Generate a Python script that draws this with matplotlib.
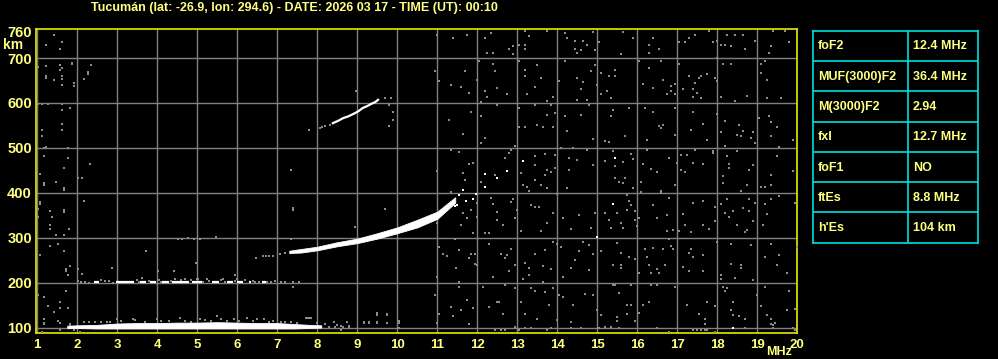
import matplotlib
matplotlib.use('Agg')
import matplotlib.pyplot as plt
import numpy as np

plt.rcParams['font.family'] = ['Liberation Sans', 'DejaVu Sans']

title = 'Tucumán (lat: -26.9, lon: 294.6) - DATE: 2026 03 17 - TIME (UT): 00:10'

freq_ticks = list(range(1, 21))
height_ticks = [100, 200, 300, 400, 500, 600, 700]

# tabla de parametros
param_names = ['foF2', 'MUF(3000)F2', 'M(3000)F2', 'fxI', 'foF1', 'ftEs', "h'Es"]
param_values = ['12.4 MHz', '36.4 MHz', '2.94', '12.7 MHz', 'NO', '8.8 MHz', '104 km']

# traza Es (banda blanca)
es_freq = [1.75, 2.0, 2.5, 3.0, 3.5, 4.0, 4.5, 5.0, 5.5, 6.0, 6.5, 7.0, 7.4, 7.8, 8.1]
es_low = [99, 99, 98, 98, 98, 98, 98, 98, 98, 98, 98, 98, 98, 99, 100]
es_high = [104, 105, 106, 109, 110, 110, 111, 111, 112, 111, 110, 110, 108, 106, 105]
es_gray = [(2.16, 113), (2.3, 112), (2.45, 113), (2.6, 113), (2.75, 112), (2.83, 113), (3.0, 118),
           (3.1, 114), (3.4, 120), (3.45, 116), (3.7, 113), (3.99, 120), (4.1, 114), (4.3, 115),
           (4.57, 122), (4.7, 115), (4.85, 113), (5.08, 120), (5.2, 116), (5.35, 114), (5.49, 125),
           (5.6, 118), (5.75, 114), (5.91, 120), (6.05, 115), (6.24, 122), (6.4, 115), (6.5, 120),
           (6.66, 118), (6.8, 113), (6.9, 114), (7.1, 113), (7.2, 113), (7.35, 112), (7.5, 111),
           (7.74, 122), (7.8, 122), (8.0, 110), (8.2, 108), (8.41, 113), (8.5, 106), (8.6, 104),
           (8.74, 112), (8.8, 104), (8.3, 102), (8.45, 101), (8.65, 101), (8.8, 100),
           (9.16, 113), (9.16, 110), (9.29, 113), (9.29, 110), (9.49, 113),
           (9.49, 110), (9.49, 128), (9.74, 128)]

# segundo salto Es (~200 km)
es2_start = [2.43, 2.97, 3.58, 3.83, 4.13, 4.38, 4.88, 5.38, 5.75, 6.0, 6.3, 6.62]
es2_end = [2.55, 3.43, 3.72, 3.97, 4.3, 4.8, 5.13, 5.55, 5.9, 6.14, 6.34, 6.72]
es2_height = 201
es2_gray = [(2.03, 204), (2.1, 201), (2.2, 201), (2.3, 199), (2.6, 205), (2.7, 204), (2.8, 203),
            (2.9, 200), (3.5, 205), (3.55, 201), (3.8, 203), (4.05, 206), (4.1, 201), (4.35, 203),
            (4.45, 207), (4.6, 205), (4.7, 208), (4.85, 205), (5.0, 207), (5.15, 201), (5.25, 207),
            (5.3, 203), (5.6, 205), (5.65, 209), (5.7, 201), (5.95, 203), (6.0, 208), (6.2, 205),
            (6.4, 204), (6.45, 201), (6.55, 202), (6.75, 202), (6.85, 201), (6.95, 203), (7.1, 202),
            (7.2, 201), (7.39, 202), (7.55, 202)]

# traza F
f_freq = [7.3, 7.6, 8.0, 8.5, 9.0, 9.5, 10.0, 10.5, 11.0, 11.25, 11.45]
f_low = [266, 267, 272, 281, 288, 298, 310, 323, 342, 362, 378]
f_high = [271, 275, 280, 290, 298, 310, 323, 340, 358, 376, 390]
f_gray = [(6.46, 255), (6.64, 259), (6.72, 259), (6.8, 259), (6.89, 259), (7.06, 263), (7.2, 266)]
f_tip = [(11.54, 395), (11.64, 406), (11.71, 382), (11.89, 386), (11.96, 398), (12.2, 442),
         (12.2, 413), (12.5, 433), (12.75, 449), (13.14, 471), (11.45, 370), (11.5, 373)]

# segundo salto F
f2_freq = [8.39, 8.54, 8.64, 8.77, 8.89, 9.02, 9.14, 9.25, 9.35, 9.45, 9.52]
f2_height = [555, 561, 566, 570, 575, 581, 589, 593, 598, 602, 607]
f2_gray = [(8.06, 544), (8.12, 546), (8.2, 548), (8.31, 551), (7.79, 540), (8.98, 626),
           (9.84, 612), (9.7, 612), (9.79, 595), (9.89, 581), (9.89, 563), (9.79, 549)]

# ruido
noise_low = [(1.43, 752), (1.23, 730), (1.63, 735), (1.58, 721), (1.23, 682), (1.03, 679), (1.58, 684),
             (1.88, 690), (1.88, 686), (1.58, 674), (1.63, 677), (1.23, 660), (1.23, 656), (1.43, 652),
             (1.63, 660), (1.63, 654), (1.63, 641), (1.93, 645), (1.93, 637), (2.34, 684), (2.28, 668),
             (2.28, 664), (2.18, 654), (1.03, 598), (1.13, 598), (1.28, 598), (1.63, 598), (1.63, 585),
             (1.83, 589), (1.63, 553), (1.63, 540), (1.13, 540), (1.13, 527), (1.23, 503), (1.18, 500),
             (1.78, 500), (1.18, 482), (1.78, 477), (2.33, 464), (1.68, 455), (1.08, 442), (2.03, 433),
             (2.13, 433), (1.18, 421), (1.18, 417), (1.48, 423), (1.68, 410), (1.68, 406), (1.08, 380),
             (1.08, 376), (2.18, 382), (1.03, 363), (1.68, 362), (1.68, 358), (1.33, 360), (1.38, 346),
             (1.03, 346), (1.33, 328), (1.33, 319), (1.8, 319), (1.48, 306), (1.68, 306), (4.53, 297),
             (4.63, 297), (4.78, 299), (4.93, 297), (5.08, 297), (5.48, 301), (1.53, 287), (1.33, 282),
             (1.68, 270), (3.73, 270), (1.08, 261), (4.98, 243), (1.83, 238), (2.88, 233), (1.73, 230),
             (1.73, 226), (2.03, 230), (4.03, 226), (4.43, 226), (2.13, 220), (1.78, 217), (3.63, 211),
             (5.03, 209), (1.73, 181), (1.03, 172), (1.18, 168), (1.58, 156), (1.28, 148), (1.78, 144),
             (1.58, 144), (1.43, 135), (1.18, 120), (1.53, 115), (1.18, 111), (1.18, 107), (1.58, 110),
             (1.83, 109), (1.83, 105), (1.58, 94), (1.13, 90), (1.93, 94), (2.08, 90),
             (7.34, 451), (7.39, 366), (7.39, 362), (9.69, 364), (8.94, 324), (7.34, 297), (9.49, 133),
             (9.74, 130), (9.74, 111), (10.04, 114), (10.04, 110), (7.39, 191), (5.94, 217), (7.73, 122),
             (7.85, 122), (8.6, 94), (10.04, 98)]

noise_mid = [(10.99, 752), (11.39, 744), (11.74, 752), (12.19, 744), (12.24, 712), (12.34, 755), (12.39, 712),
             (12.79, 721), (12.89, 726), (12.89, 708), (13.04, 730), (13.19, 761), (13.19, 730), (13.19, 721),
             (13.29, 748), (13.74, 761), (14.19, 755), (14.24, 744), (14.44, 739), (14.44, 721), (14.49, 712),
             (14.59, 717), (14.64, 739), (14.74, 730), (14.89, 757), (14.94, 717), (15.04, 735),
             (10.94, 672), (11.04, 648), (11.34, 639), (11.59, 635), (11.69, 671), (11.79, 622), (11.99, 652),
             (12.04, 694), (12.19, 626), (12.24, 614), (12.39, 686), (12.44, 671), (12.49, 633), (12.74, 620),
             (12.09, 602), (13.04, 693), (13.19, 674), (13.19, 660), (13.24, 619), (13.44, 635), (13.49, 684),
             (13.59, 656), (13.74, 604), (13.89, 613), (14.04, 648), (14.19, 693), (14.49, 656), (14.59, 630),
             (14.64, 647), (14.74, 607), (14.84, 671), (14.94, 684), (14.99, 641), (15.09, 667), (15.09, 619),
             (14.49, 607),
             (11.29, 563), (11.64, 531), (11.84, 581), (12.09, 572), (12.09, 511), (12.19, 522), (12.49, 595),
             (13.04, 589), (13.04, 546), (13.19, 546), (13.44, 595), (13.49, 552), (13.64, 547), (13.74, 574),
             (13.84, 595), (13.89, 546), (13.94, 577), (14.19, 572), (14.24, 537), (14.59, 574), (14.79, 595),
             (14.89, 520), (15.19, 516),
             (10.99, 449), (11.34, 495), (11.54, 491), (11.64, 443), (11.79, 464), (11.89, 466), (11.69, 429),
             (12.09, 423), (12.44, 440), (12.69, 477), (12.79, 488), (12.84, 495), (12.94, 504), (13.09, 444),
             (13.14, 418), (13.24, 412), (13.29, 403), (13.44, 482), (13.44, 462), (13.44, 429), (13.59, 418),
             (13.69, 487), (13.69, 440), (13.74, 451), (13.84, 446), (13.94, 485), (13.94, 455), (13.74, 410),
             (14.24, 410), (14.29, 477), (14.29, 451), (14.39, 500), (14.49, 473), (14.74, 495), (14.89, 462),
             (15.19, 470), (14.09, 500),
             (11.34, 401), (11.54, 395), (11.64, 354), (11.84, 362), (11.99, 378), (11.99, 347), (12.34, 389),
             (12.39, 375), (12.49, 358), (12.49, 340), (12.64, 328), (12.84, 380), (12.89, 386), (12.94, 345),
             (12.99, 362), (13.09, 315), (13.34, 373), (13.44, 369), (13.54, 369), (13.59, 315), (13.74, 332),
             (13.89, 354), (13.99, 397), (14.14, 343), (14.54, 351), (14.34, 319), (14.84, 322), (14.94, 354),
             (15.19, 356), (12.29, 311), (12.19, 311), (11.89, 311), (11.59, 328), (11.74, 343), (10.99, 332),
             (11.04, 280), (11.14, 264), (11.24, 260), (11.44, 297), (11.54, 273), (11.79, 254), (11.84, 264),
             (11.94, 264), (11.94, 242), (11.99, 239), (12.29, 285), (12.39, 213), (12.59, 264), (12.69, 254),
             (12.74, 261), (12.79, 226), (12.84, 276), (12.94, 239), (13.14, 208), (13.19, 243), (13.29, 233),
             (13.29, 217), (13.44, 263), (13.69, 273), (13.64, 237), (13.84, 230), (13.89, 291), (13.99, 287),
             (14.14, 213), (14.09, 280), (14.34, 233), (14.44, 250), (14.54, 270), (14.64, 291), (14.79, 284),
             (14.79, 229), (14.89, 263), (15.09, 270), (11.46, 232), (11.54, 202), (10.99, 213),
             (10.94, 172), (11.04, 130), (11.34, 146), (11.39, 126), (11.54, 191), (11.59, 139), (11.74, 161),
             (11.89, 144), (12.14, 191), (12.29, 146), (12.49, 157), (12.54, 156), (12.69, 194), (12.64, 131),
             (12.94, 189), (13.09, 157), (13.19, 131), (13.34, 189), (13.44, 181), (13.49, 119), (13.64, 202),
             (13.69, 180), (13.79, 150), (13.89, 189), (13.99, 116), (14.04, 172), (14.14, 168), (14.34, 113),
             (14.39, 151), (14.69, 174), (14.89, 172), (14.99, 139), (15.09, 129), (15.19, 101), (11.79, 107),
             (10.99, 111), (12.44, 94), (12.59, 94), (12.69, 94), (13.04, 94), (13.19, 100), (13.34, 100),
             (13.74, 94), (13.84, 100), (14.34, 100), (14.59, 100), (15.04, 98), (12.94, 101)]

noise_high = [(15.64, 757), (15.59, 708), (15.89, 744), (16.29, 730), (16.29, 712), (16.39, 744), (16.54, 721),
              (17.04, 735), (17.19, 735), (17.29, 744), (17.44, 752), (17.79, 761), (17.89, 735), (17.99, 739),
              (18.09, 730), (18.19, 730), (18.24, 752), (18.34, 726), (18.44, 752), (18.64, 752), (18.69, 721),
              (18.94, 739), (19.29, 712), (19.34, 726), (19.39, 761), (19.69, 761), (19.79, 735),
              (15.44, 674), (15.44, 660), (15.29, 660), (15.24, 626), (15.34, 611), (16.04, 693), (16.14, 642),
              (16.29, 678), (16.39, 633), (16.59, 693), (16.64, 652), (16.74, 619), (16.84, 637), (16.84, 627),
              (16.94, 642), (16.94, 620), (17.04, 686), (17.14, 631), (17.29, 661), (17.39, 631), (17.39, 613),
              (17.44, 645), (17.49, 622), (17.54, 656), (17.59, 610), (17.59, 659), (17.74, 665), (17.94, 656),
              (17.99, 648), (18.09, 613), (18.14, 687), (18.34, 687), (18.44, 605), (18.74, 615), (19.09, 686),
              (19.09, 667), (19.19, 693), (19.24, 652), (19.24, 610), (19.59, 611), (17.99, 699),
              (15.34, 570), (15.39, 585), (15.29, 514), (15.69, 527), (15.79, 589), (16.19, 589), (16.24, 518),
              (16.39, 580), (16.54, 548), (16.64, 552), (16.59, 544), (16.94, 589), (16.94, 529), (17.34, 540),
              (17.39, 580), (17.64, 553), (17.74, 518), (17.99, 575), (18.09, 535), (18.19, 559), (18.19, 505),
              (18.49, 529), (18.54, 552), (18.59, 526), (18.64, 537), (18.84, 522), (18.89, 535), (18.94, 511),
              (19.04, 566), (19.29, 572), (19.34, 557), (19.34, 527), (19.49, 546), (19.54, 503), (19.89, 518),
              (15.39, 492), (15.64, 468), (15.84, 486), (15.89, 476), (15.44, 460), (15.44, 432), (15.69, 432),
              (15.64, 421), (15.54, 423), (15.89, 410), (16.09, 425), (16.14, 465), (16.24, 495), (16.34, 453),
              (16.49, 446), (16.79, 477), (16.59, 403), (16.94, 418), (16.99, 466), (17.09, 451), (17.19, 447),
              (17.09, 485), (17.24, 485), (17.39, 466), (17.44, 495), (17.64, 464), (17.89, 494), (17.89, 488),
              (18.14, 438), (18.14, 421), (18.24, 482), (18.29, 464), (18.29, 455), (18.49, 493), (18.59, 403),
              (18.74, 418), (18.79, 451), (18.89, 462), (19.09, 413), (19.19, 413), (19.34, 440), (19.34, 418),
              (19.49, 481), (19.54, 502), (19.89, 449),
              (15.29, 340), (15.34, 322), (15.49, 356), (15.59, 332), (15.64, 322), (15.74, 362), (15.79, 382),
              (15.84, 373), (15.94, 360), (15.94, 340), (15.99, 325), (16.04, 343), (15.74, 395), (16.09, 401),
              (16.39, 373), (16.49, 343), (16.74, 351), (16.79, 388), (16.59, 399), (16.74, 315), (16.89, 317),
              (17.04, 315), (17.14, 352), (17.19, 328), (17.34, 312), (17.39, 378), (17.64, 382), (17.64, 328),
              (17.79, 319), (17.94, 369), (17.94, 337), (18.09, 375), (18.19, 354), (18.29, 347), (18.39, 360),
              (18.49, 328), (18.69, 313), (18.74, 317), (18.79, 360), (18.79, 386), (18.89, 337), (18.94, 378),
              (19.19, 375), (19.24, 352), (19.34, 386), (19.54, 393), (19.94, 378), (19.14, 328), (18.64, 367),
              (18.24, 386),
              (15.49, 289), (15.59, 265), (15.79, 258), (15.94, 253), (15.39, 239), (15.59, 239), (15.59, 232),
              (16.19, 276), (16.24, 258), (16.39, 278), (16.29, 239), (16.49, 230), (16.54, 221), (16.64, 276),
              (16.69, 239), (16.79, 297), (16.84, 282), (16.89, 275), (16.04, 221), (16.34, 221), (17.14, 235),
              (17.29, 265), (17.34, 275), (17.39, 258), (17.29, 226), (17.64, 261), (17.64, 226), (17.99, 291),
              (18.09, 217), (18.09, 208), (18.34, 287), (18.34, 241), (18.44, 211), (18.59, 239), (18.59, 232),
              (18.84, 284), (18.89, 206), (19.19, 258), (19.49, 239), (19.54, 261), (19.74, 221), (19.99, 280),
              (19.34, 287),
              (15.39, 194), (15.44, 194), (15.54, 176), (15.84, 194), (15.74, 151), (15.84, 151), (16.04, 133),
              (15.74, 131), (15.94, 114), (15.49, 124), (15.49, 114), (16.14, 151), (16.34, 194), (16.29, 156),
              (16.49, 194), (16.94, 191), (17.24, 151), (17.54, 131), (17.74, 157), (17.69, 120), (17.69, 109),
              (17.94, 148), (18.14, 191), (18.19, 181), (18.24, 187), (18.34, 139), (18.39, 156), (18.39, 127),
              (18.54, 126), (18.69, 120), (18.99, 172), (19.09, 148), (19.19, 191), (19.24, 129), (19.34, 120),
              (19.34, 109), (19.39, 105), (19.44, 111), (19.79, 181), (19.94, 142), (19.74, 139), (15.34, 101),
              (15.54, 100), (16.49, 98), (16.79, 90), (17.39, 94), (17.49, 94), (17.59, 94), (17.69, 94),
              (17.74, 94), (17.94, 90), (18.69, 98), (19.39, 100), (19.89, 98), (19.94, 94)]

white_dots = [(15.44, 477), (15.39, 374), (18.39, 98), (14.99, 301)]

TXT = '#ffff80'
YEL = '#e8e800'
GRAY = '#8c8c8c'

fig = plt.figure(figsize=(9.98, 3.59), dpi=100, facecolor='black')
ax = fig.add_axes([36 / 998, 1 - 332.5 / 359, 761.3 / 998, 303.2 / 359], facecolor='black')

ax.set_xlim(0.97, 20.0)
ax.set_ylim(89, 764)
ax.set_xticks(freq_ticks)
ax.set_yticks(height_ticks)
ax.set_yticks([760], labels=['760'], minor=True)
ax.grid(True, which='major', color='#808080', lw=1)
ax.set_axisbelow(True)
ax.tick_params(which='both', length=0, colors=TXT, labelsize=9.5)
ax.tick_params(axis='x', pad=5)
ax.tick_params(axis='y', which='both', pad=3, labelsize=10.5)
for lab in ax.get_xticklabels() + ax.get_yticklabels() + ax.get_yticklabels(minor=True):
    lab.set_fontweight('bold')
for sp in ax.spines.values():
    sp.set_color(YEL)
    sp.set_linewidth(1.2)

def pts(lst):
    a = np.array(lst, dtype=float)
    return a[:, 0], a[:, 1]

# ruido (pixeles nitidos)
for group in (noise_low, noise_mid, noise_high, es_gray, es2_gray, f_gray, f2_gray):
    x, y = pts(group)
    ax.scatter(x, y, s=3.0, marker='s', color=GRAY, lw=0, zorder=3, antialiased=False)

# trazas
ax.fill_between(es_freq, es_low, es_high, color='white', lw=0.6, edgecolor='white', zorder=4)
ax.hlines([es2_height] * len(es2_start), es2_start, es2_end, color='white', lw=1.6, zorder=4)
ax.fill_between(f_freq, f_low, f_high, color='white', lw=0.6, edgecolor='white', zorder=4)
ax.plot(f2_freq, f2_height, color='white', lw=1.6, zorder=4)
x, y = pts(f_tip + white_dots)
ax.scatter(x, y, s=4, marker='s', color='white', lw=0, zorder=4, antialiased=False)

fig.text(91 / 998, 1 - 8 / 359, title, color=TXT, fontsize=9, fontweight='bold',
         ha='left', va='center')
fig.text(13 / 998, 1 - 45 / 359, 'km', color=TXT, fontsize=10, fontweight='bold',
         ha='center', va='center')
fig.text(779 / 998, 1 - 352 / 359, 'MHz', color=TXT, fontsize=9, fontweight='bold',
         ha='center', va='center')

# tabla
tab = fig.add_axes([812.7 / 998, 1 - 242.7 / 359, 165 / 998, 212 / 359], facecolor='black')
tab.set_xlim(0, 1)
tab.set_ylim(len(param_names), 0)
tab.set_xticks([])
tab.set_yticks([])
for sp in tab.spines.values():
    sp.set_color('#00e0e0')
    sp.set_linewidth(1.2)
for i in range(1, len(param_names)):
    tab.axhline(i, color='#00e0e0', lw=1.2)
tab.axvline(0.576, color='#00e0e0', lw=1.2)
for i, (n, v) in enumerate(zip(param_names, param_values)):
    tab.text(0.03, i + 0.52, n, color=TXT, fontsize=9, fontweight='bold', ha='left', va='center')
    tab.text(0.606, i + 0.52, v, color=TXT, fontsize=9, fontweight='bold', ha='left', va='center')

fig.savefig('out.png', dpi=100, facecolor='black')
